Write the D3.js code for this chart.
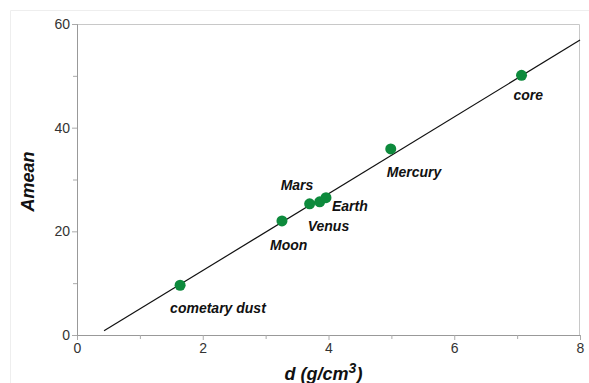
<!DOCTYPE html>
<html>
<head>
<meta charset="utf-8">
<script src="https://cdn.jsdelivr.net/npm/d3@7"></script>
<style>
  body { margin: 0; background: #fff; }
  svg { font-family: "Liberation Sans", Arial, sans-serif; }
</style>
</head>
<body>
<svg id="chart" width="589" height="383"></svg>
<script>
// data
var names = ["cometary dust", "Moon", "Mars", "Venus", "Earth", "Mercury", "core"];
var density = [1.64, 3.26, 3.70, 3.86, 3.96, 4.99, 7.07];
var amean = [9.6, 22.0, 25.3, 25.7, 26.5, 35.9, 50.1];
var fitX = [0.43, 8];
var fitY = [0.8, 56.9];
var xTicks = [0, 2, 4, 6, 8];
var yTicks = [0, 20, 40, 60];

var svg = d3.select("#chart");
var margin = {top: 24, right: 9, bottom: 48, left: 77};
var width = 589 - margin.left - margin.right,
    height = 383 - margin.top - margin.bottom;

// faint outer frame
svg.append("path")
    .attr("d", "M10.5,383 V10.5 H589")
    .attr("fill", "none")
    .attr("stroke", "#eee");

var g = svg.append("g").attr("transform", "translate(" + margin.left + "," + margin.top + ")");

var x = d3.scaleLinear().domain([0, 8]).range([0, width]);
var y = d3.scaleLinear().domain([0, 60]).range([height, 0]);

// plot frame (top / right)
g.append("path")
    .attr("d", "M0,0.5 H" + (width - 0.5) + " V" + height)
    .attr("fill", "none")
    .attr("stroke", "#c8c8c8");

var xAxis = g.append("g")
    .attr("transform", "translate(0," + height + ")")
    .call(d3.axisBottom(x).tickValues(xTicks).tickSize(5).tickPadding(3).tickFormat(d3.format("d")));
var xMinor = g.append("g")
    .attr("transform", "translate(0," + height + ")")
    .call(d3.axisBottom(x).tickValues([1, 3, 5, 7]).tickSize(4).tickFormat(""));
var yAxis = g.append("g")
    .call(d3.axisLeft(y).tickValues(yTicks).tickSize(5).tickPadding(2).tickFormat(d3.format("d")));
var yMinor = g.append("g")
    .call(d3.axisLeft(y).tickValues([10, 30, 50]).tickSize(4).tickFormat(""));

[xAxis, xMinor, yAxis, yMinor].forEach(function(a) {
  a.selectAll(".domain").attr("stroke", "#999");
  a.selectAll("line").attr("stroke", "#aaa");
  a.selectAll("text").attr("fill", "#333").style("font-size", "14px");
});
xMinor.select(".domain").remove();
yMinor.select(".domain").remove();

// fit line
var line = d3.line()
    .x(function(d) { return x(d[0]); })
    .y(function(d) { return y(d[1]); });
g.append("path")
    .datum(fitX.map(function(v, i) { return [v, fitY[i]]; }))
    .attr("fill", "none")
    .attr("stroke", "#111")
    .attr("stroke-width", 1.2)
    .attr("d", line);

// points
var pts = names.map(function(n, i) { return {name: n, d: density[i], a: amean[i]}; });
g.selectAll("circle.pt")
    .data(pts)
  .enter().append("circle")
    .attr("class", "pt")
    .attr("cx", function(d) { return x(d.d); })
    .attr("cy", function(d) { return y(d.a); })
    .attr("r", 5.5)
    .attr("fill", "#0d8a3c");

// label offsets relative to point (px)
var offs = {
  "cometary dust": [-10, 28],
  "Moon": [-12, 29],
  "Mars": [-29, -14],
  "Venus": [-12, 29],
  "Earth": [6, 13],
  "Mercury": [-4, 28],
  "core": [-8, 25]
};
g.selectAll("text.lbl")
    .data(pts)
  .enter().append("text")
    .attr("class", "lbl")
    .attr("x", function(d) { return x(d.d) + offs[d.name][0]; })
    .attr("y", function(d) { return y(d.a) + offs[d.name][1]; })
    .attr("font-size", "14px")
    .attr("font-weight", "bold")
    .attr("font-style", "italic")
    .attr("fill", "#111")
    .text(function(d) { return d.name; });

// axis titles
svg.append("text")
    .attr("transform", "translate(34," + (margin.top + height / 2 + 2) + ") rotate(-90)")
    .attr("text-anchor", "middle")
    .attr("font-size", "18px")
    .attr("font-weight", "bold")
    .attr("font-style", "italic")
    .attr("fill", "#111")
    .text("Amean");

var xt = svg.append("text")
    .attr("x", margin.left + width / 2 - 5)
    .attr("y", 380)
    .attr("text-anchor", "middle")
    .attr("font-size", "18px")
    .attr("font-weight", "bold")
    .attr("font-style", "italic")
    .attr("fill", "#111");
xt.append("tspan").text("d (g/cm");
xt.append("tspan").attr("dy", -7).attr("font-size", "14px").text("3");
xt.append("tspan").attr("dy", 7).text(")");
</script>
</body>
</html>
